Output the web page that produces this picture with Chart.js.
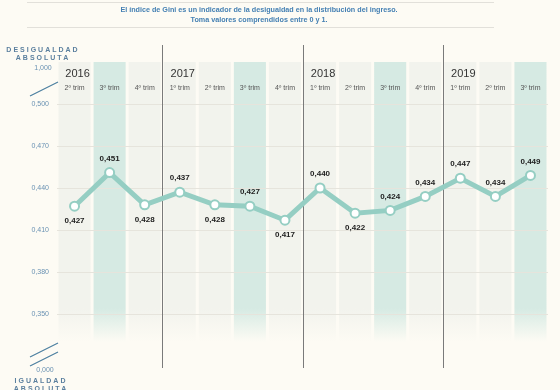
<!DOCTYPE html>
<html>
<head>
<meta charset="utf-8">
<script src="https://cdn.jsdelivr.net/npm/chart.js@4.4.1/dist/chart.umd.min.js"></script>
<style>
  html, body { margin: 0; padding: 0; background: #fdfbf4; }
</style>
</head>
<body>
<canvas id="gini" width="560" height="390"></canvas>
<script>
// Índice de Gini por trimestre, 2016 2º trim - 2019 3º trim
const QUARTERS = ["2º trim", "3º trim", "4º trim",
  "1º trim", "2º trim", "3º trim", "4º trim",
  "1º trim", "2º trim", "3º trim", "4º trim",
  "1º trim", "2º trim", "3º trim"];
const YEARS = ["2016", "2017", "2018", "2019"];
const YEAR_FIRST_QUARTER = [0, 3, 7, 11];
const GINI = [0.427, 0.451, 0.428, 0.437, 0.428, 0.427, 0.417,
  0.440, 0.422, 0.424, 0.434, 0.447, 0.434, 0.449];
const LABEL_SIDE = ["below", "above", "below", "above", "below", "above", "below",
  "above", "below", "above", "above", "above", "above", "above"];
const Y_TICKS = [0.35, 0.38, 0.41, 0.44, 0.47, 0.50];

const FONT = "Arial, 'Liberation Sans', Helvetica, sans-serif";
const LINE_COLOR = "#95cec3";
const BLUE = "#5a7f9e";

function fmt(v) {
  return v.toFixed(3).replace(".", ",");
}

function spaced(ctx, text, x, y, spacing) {
  ctx.letterSpacing = spacing + "px";
  ctx.fillText(text, x + spacing / 2, y);
  ctx.letterSpacing = "0px";
}

const decor = {
  id: "decor",
  beforeDraw(chart) {
    const { ctx, chartArea: a, scales: { x } } = chart;
    const step = x.getPixelForValue(1) - x.getPixelForValue(0);
    ctx.save();
    ctx.fillStyle = "#fdfbf4";
    ctx.fillRect(0, 0, chart.width, chart.height);

    // column bands
    QUARTERS.forEach((q, i) => {
      const cx = x.getPixelForValue(i);
      const rgb = q.startsWith("3") ? "214,234,227" : "242,243,237";
      const g = ctx.createLinearGradient(0, a.top, 0, a.bottom);
      g.addColorStop(0, `rgba(${rgb},1)`);
      g.addColorStop(0.88, `rgba(${rgb},1)`);
      g.addColorStop(1, `rgba(${rgb},0)`);
      ctx.fillStyle = g;
      ctx.fillRect(cx - step / 2 + 1.5, a.top, step - 3, a.bottom - a.top);
    });

    // title
    ctx.strokeStyle = "#e2e0da";
    ctx.lineWidth = 1;
    ctx.beginPath();
    ctx.moveTo(27, 2.5); ctx.lineTo(494, 2.5);
    ctx.moveTo(27, 27.5); ctx.lineTo(494, 27.5);
    ctx.stroke();
    ctx.fillStyle = "#4580b3";
    ctx.font = "bold 7.2px " + FONT;
    ctx.textAlign = "center";
    ctx.textBaseline = "middle";
    ctx.fillText("El índice de Gini es un indicador de la desigualdad en la distribución del ingreso.", 259, 10);
    ctx.fillText("Toma valores comprendidos entre 0 y 1.", 259, 20);

    // axis end labels
    ctx.fillStyle = BLUE;
    ctx.font = "bold 7px " + FONT;
    spaced(ctx, "DESIGUALDAD", 42, 50, 2.0);
    spaced(ctx, "ABSOLUTA", 42, 58, 2.0);
    spaced(ctx, "IGUALDAD", 40, 381, 2.0);
    spaced(ctx, "ABSOLUTA", 40, 389, 2.0);
    ctx.fillStyle = "#6a92b3";
    ctx.font = "7px " + FONT;
    ctx.fillText("1,000", 43, 68);
    ctx.fillText("0,000", 45, 370);

    // axis break marks
    ctx.strokeStyle = "#4b7fa0";
    ctx.lineWidth = 1.2;
    ctx.beginPath();
    ctx.moveTo(30, 96); ctx.lineTo(58, 82);
    ctx.moveTo(30, 357); ctx.lineTo(58, 343);
    ctx.moveTo(30, 366); ctx.lineTo(58, 352);
    ctx.stroke();

    // year and quarter headers
    ctx.fillStyle = "#333";
    ctx.font = "11px " + FONT;
    YEARS.forEach((yr, k) => {
      ctx.fillText(yr, x.getPixelForValue(YEAR_FIRST_QUARTER[k]) + 3, 74);
    });
    ctx.fillStyle = "#555";
    ctx.font = "7px " + FONT;
    QUARTERS.forEach((q, i) => {
      ctx.fillText(q, x.getPixelForValue(i), 88);
    });
    ctx.restore();
  },
  beforeDatasetsDraw(chart) {
    const { ctx, scales: { x } } = chart;
    const step = x.getPixelForValue(1) - x.getPixelForValue(0);
    ctx.save();
    ctx.strokeStyle = "#7a7a7a";
    ctx.lineWidth = 1;
    ctx.beginPath();
    YEAR_FIRST_QUARTER.slice(1).forEach(i => {
      const px = Math.round(x.getPixelForValue(i) - step / 2) + 0.5;
      ctx.moveTo(px, 45);
      ctx.lineTo(px, 368);
    });
    ctx.stroke();
    ctx.restore();
  },
  afterDatasetsDraw(chart) {
    const { ctx } = chart;
    const meta = chart.getDatasetMeta(0);
    ctx.save();
    ctx.fillStyle = "#222";
    ctx.font = "bold 8px " + FONT;
    ctx.textAlign = "center";
    ctx.textBaseline = "middle";
    meta.data.forEach((pt, i) => {
      const dy = LABEL_SIDE[i] === "below" ? 15 : -14;
      ctx.fillText(fmt(GINI[i]), pt.x, pt.y + dy);
    });
    ctx.restore();
  }
};

function buildChart() {
  new Chart(document.getElementById("gini"), {
    type: "line",
    data: {
      labels: QUARTERS,
      datasets: [{
        data: GINI,
        borderColor: LINE_COLOR,
        borderWidth: 5,
        tension: 0,
        pointRadius: 4.5,
        pointBorderWidth: 2,
        pointBackgroundColor: "#ffffff",
        pointBorderColor: LINE_COLOR
      }]
    },
    options: {
      responsive: false,
      animation: false,
      devicePixelRatio: 1,
      layout: { padding: { top: 62, right: 12, bottom: 48, left: 0 } },
      plugins: { legend: { display: false }, tooltip: { enabled: false } },
      scales: {
        x: { display: false, offset: true },
        y: {
          min: 0.33,
          max: 0.53,
          afterFit: s => { s.width = 57; },
          afterBuildTicks: s => { s.ticks = Y_TICKS.map(v => ({ value: v })); },
          border: { display: false },
          grid: { color: "#e6e4dc", drawTicks: false },
          ticks: {
            padding: 8,
            color: "#6a92b3",
            font: { size: 7, family: FONT },
            callback: v => fmt(v)
          }
        }
      }
    },
    plugins: [decor]
  });
}

document.addEventListener("DOMContentLoaded", buildChart);
</script>
</body>
</html>
